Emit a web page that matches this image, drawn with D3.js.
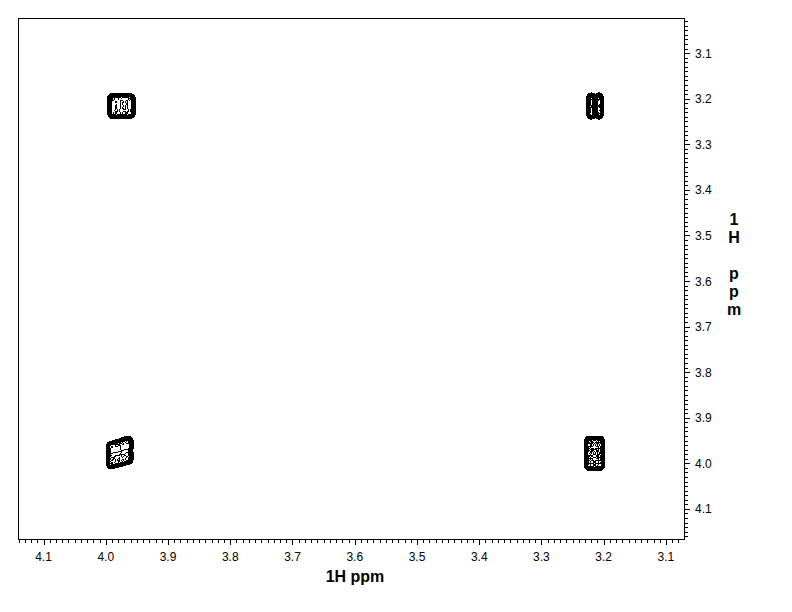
<!DOCTYPE html>
<html><head><meta charset="utf-8">
<script src="https://cdn.jsdelivr.net/npm/d3@7"></script>
<style>body{margin:0;background:#fff}svg{display:block}</style>
</head><body><svg id="c" width="792" height="612"></svg>
<script>
// ---- data ----
const xTicks = [4.1, 4.0, 3.9, 3.8, 3.7, 3.6, 3.5, 3.4, 3.3, 3.2, 3.1];
const yTicks = [3.1, 3.2, 3.3, 3.4, 3.5, 3.6, 3.7, 3.8, 3.9, 4.0, 4.1];
const xTitle = "1H ppm";
const yTitle = ["1", "H", "", "p", "p", "m"];
// cross peaks: centre (F2, F1) in ppm
const peakX = [3.975, 3.214, 3.978, 3.215];
const peakY = [3.216, 3.216, 3.977, 3.978];
// multiplet line offsets (ppm) and relative line intensities
const peakDx = [[-0.0135, -0.0045, 0.0045, 0.0135], [-0.006, 0.006], [-0.013, -0.0045, 0.0045, 0.013], [-0.0085, 0, 0.0085]];
const peakDy = [[-0.016, -0.005, 0.005, 0.016], [-0.017, -0.006, 0.006, 0.017], [-0.019, -0.007, 0.007, 0.019], [-0.026, -0.013, 0, 0.013, 0.026]];
const peakAx = [[1.0, 0.85, 0.9, 1.05], [1.0, 0.95], [1.25, 1.1, 0.85, 0.8], [1.05, 0.8, 1.0]];
const peakAy = [[1.15, 0.9, 0.85, 1.0], [1.1, 0.9, 0.85, 1.0], [1.2, 1.0, 0.9, 0.85], [1.25, 0.9, 0.8, 0.9, 1.05]];
const peakWx = [0.0034, 0.0029, 0.0035, 0.0030];
const peakWy = [0.0045, 0.0045, 0.0047, 0.0045];
const peakShear = [0, 0, 0.4, 0];
const levels = [0.03, 0.042, 0.059, 0.082, 0.115, 0.16, 0.225, 0.315, 0.44, 0.62, 0.87];

// ---- layout ----
const svg = d3.select("#c");
const L = 18, R = 684, T = 18, B = 539;
const x = d3.scaleLinear().domain([4.141, 3.071]).range([L, R]);
const y = d3.scaleLinear().domain([3.023, 4.166]).range([T, B]);

// contours
const cg = svg.append("g").attr("fill", "none").attr("stroke", "#000").attr("stroke-width", 1)
  .attr("shape-rendering", "crispEdges");
const step = 0.0004, hx = 0.036, hy = 0.045;
peakX.forEach((cx, p) => {
  const cy = peakY[p];
  const nx = Math.round(2 * hx / step) + 1, ny = Math.round(2 * hy / step) + 1;
  const x0 = cx + hx, y0 = cy - hy;
  const vals = new Float64Array(nx * ny);
  const wx = peakWx[p], wy = peakWy[p];
  let mx = 0;
  for (let j = 0; j < ny; j++) {
    const Y = y0 + j * step;
    for (let i = 0; i < nx; i++) {
      const X = x0 - i * step;
      let s = 0;
      peakDx[p].forEach((dx, a) => {
        const ex = (X - cx - dx) / wx;
        const gx = Math.exp(-0.5 * ex * ex) * peakAx[p][a];
        peakDy[p].forEach((dy, b) => {
          const ey = (Y - cy - dy - peakShear[p] * dx) / wy;
          s += gx * peakAy[p][b] * Math.exp(-0.5 * ey * ey);
        });
      });
      vals[j * nx + i] = s;
      if (s > mx) mx = s;
    }
  }
  for (let k = 0; k < vals.length; k++) vals[k] /= mx;
  const cs = d3.contours().size([nx, ny]).thresholds(levels)(vals);
  const proj = d3.geoTransform({
    point: function (gi, gj) { this.stream.point(x(x0 - gi * step), y(y0 + gj * step)); }
  });
  const path = d3.geoPath(proj);
  cg.selectAll(null).data(cs).join("path").attr("d", path);
});

// frame
svg.append("rect").attr("x", L + 0.5).attr("y", T + 0.5).attr("width", R - L).attr("height", B - T)
  .attr("fill", "none").attr("stroke", "#000").attr("shape-rendering", "crispEdges");

// ticks
const xMinor = d3.range(308, 415).map(v => v / 100);
const yMinor = d3.range(303, 417).map(v => v / 100);
const tg = svg.append("g").attr("stroke", "#000").attr("shape-rendering", "crispEdges");
tg.selectAll(null).data(xMinor).join("line")
  .attr("x1", d => Math.round(x(d)) + 0.5).attr("x2", d => Math.round(x(d)) + 0.5)
  .attr("y1", B + 0.5).attr("y2", d => B + (xTicks.some(t => Math.abs(t - d) < 1e-6) ? 5 : 3) + 0.5);
tg.selectAll(null).data(yMinor).join("line")
  .attr("y1", d => Math.round(y(d)) + 0.5).attr("y2", d => Math.round(y(d)) + 0.5)
  .attr("x1", R + 0.5).attr("x2", d => R + (yTicks.some(t => Math.abs(t - d) < 1e-6) ? 5 : 3) + 0.5);

const font = "'Liberation Sans', Arial, sans-serif";
svg.append("g").selectAll(null).data(xTicks).join("text")
  .attr("x", d => x(d)).attr("y", 561).attr("text-anchor", "middle")
  .attr("font-family", font).attr("font-size", 12).attr("fill", "#000")
  .text(d => d.toFixed(1));
svg.append("g").selectAll(null).data(yTicks).join("text")
  .attr("x", 695).attr("y", d => y(d) + 4.5).attr("text-anchor", "start")
  .attr("font-family", font).attr("font-size", 12).attr("fill", "#000")
  .text(d => d.toFixed(1));

svg.append("text").attr("x", 355).attr("y", 582).attr("text-anchor", "middle")
  .attr("font-family", font).attr("font-size", 16).attr("font-weight", "bold").attr("fill", "#000").text(xTitle);
svg.append("g").selectAll(null).data(yTitle).join("text")
  .attr("x", 734).attr("y", (d, i) => 225 + i * 18).attr("text-anchor", "middle")
  .attr("font-family", font).attr("font-size", 16).attr("font-weight", "bold").attr("fill", "#000").text(d => d);
</script></body></html>
